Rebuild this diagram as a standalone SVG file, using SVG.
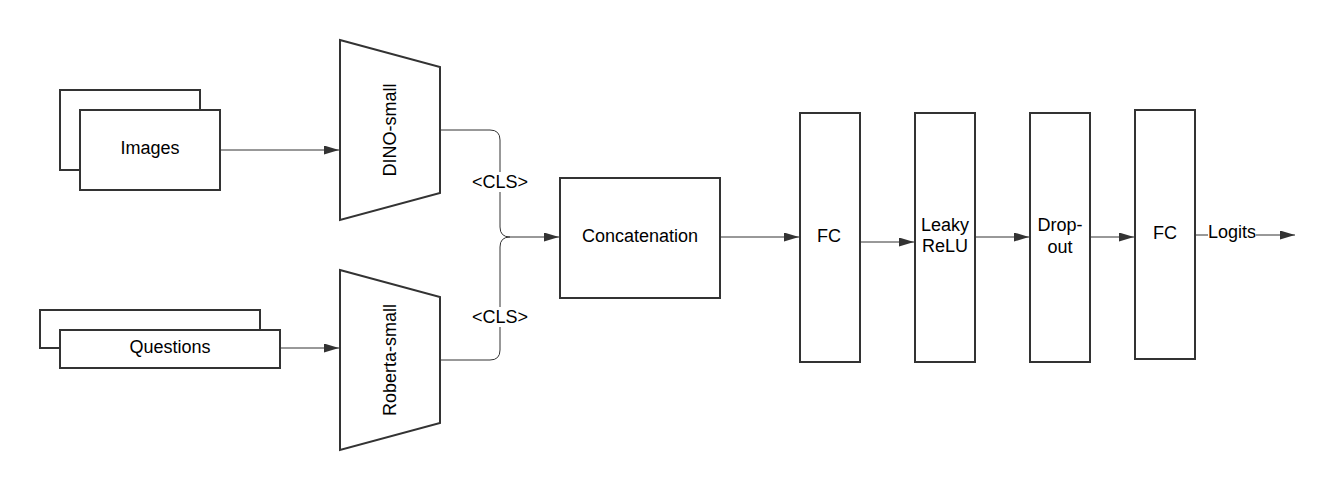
<svg xmlns="http://www.w3.org/2000/svg" width="1335" height="490" viewBox="0 0 1335 490">
<defs>
<style>
.box{fill:#fff;stroke:#333;stroke-width:2}
.t{font-family:"Liberation Sans",Arial,sans-serif;font-size:18px;fill:#000;text-anchor:middle;dominant-baseline:central}
.c{fill:none;stroke:#333;stroke-width:1}
</style>
<marker id="ah" markerUnits="userSpaceOnUse" markerWidth="16" markerHeight="10" refX="15" refY="4.5" orient="auto">
<path d="M0,0 L15,4.5 L0,9 z" fill="#333"/>
</marker>
</defs>
<rect width="1335" height="490" fill="#fff"/>
<g id="images">
<rect class="box" x="60" y="90" width="140" height="80"/>
<rect class="box" x="80" y="110" width="140" height="80"/>
<text class="t" x="150" y="148">Images</text>
</g>
<g id="questions">
<rect class="box" x="40" y="310" width="220" height="38"/>
<rect class="box" x="60" y="330" width="220" height="38"/>
<text class="t" x="170" y="347">Questions</text>
</g>
<g id="dino">
<path class="box" d="M340,40 L440,67 L440,193 L340,220 Z"/>
<text class="t" transform="translate(390,130) rotate(-90)">DINO-small</text>
</g>
<g id="roberta">
<path class="box" d="M340,270 L440,297 L440,423 L340,450 Z"/>
<text class="t" transform="translate(390,360) rotate(-90)">Roberta-small</text>
</g>
<g id="concat">
<rect class="box" x="560" y="178" width="160" height="120"/>
<text class="t" x="640" y="236">Concatenation</text>
</g>
<g id="fc1">
<rect class="box" x="800" y="113" width="60" height="249"/>
<text class="t" x="829" y="236">FC</text>
</g>
<g id="leaky">
<rect class="box" x="915" y="113" width="60" height="249"/>
<text class="t" x="945" y="225">Leaky</text>
<text class="t" x="945" y="246">ReLU</text>
</g>
<g id="dropout">
<rect class="box" x="1030" y="113" width="60" height="249"/>
<text class="t" x="1060" y="225">Drop-</text>
<text class="t" x="1060" y="247">out</text>
</g>
<g id="fc2">
<rect class="box" x="1135" y="110" width="60" height="249"/>
<text class="t" x="1165" y="233">FC</text>
</g>
<g id="connectors">
<path class="c" d="M220,150 H339" marker-end="url(#ah)"/>
<path class="c" d="M280,348 H339" marker-end="url(#ah)"/>
<path class="c" d="M440,130 H490 Q500,130 500,140 V227 Q500,237 510,237 H559" marker-end="url(#ah)"/>
<path class="c" d="M440,360 H490 Q500,360 500,350 V247 Q500,237 510,237"/>
<rect x="472" y="172" width="56" height="20" fill="#fff"/>
<text class="t" x="500" y="182">&lt;CLS&gt;</text>
<rect x="472" y="307" width="56" height="20" fill="#fff"/>
<text class="t" x="500" y="317">&lt;CLS&gt;</text>
<path class="c" d="M720,237 H799" marker-end="url(#ah)"/>
<path class="c" d="M860,242 H914" marker-end="url(#ah)"/>
<path class="c" d="M975,237 H1029" marker-end="url(#ah)"/>
<path class="c" d="M1090,237 H1134" marker-end="url(#ah)"/>
<path class="c" d="M1195,235 H1208"/>
<path class="c" d="M1256,235 H1295" stroke-width="2" marker-end="url(#ah)"/>
<text class="t" x="1232" y="232">Logits</text>
</g>
</svg>
